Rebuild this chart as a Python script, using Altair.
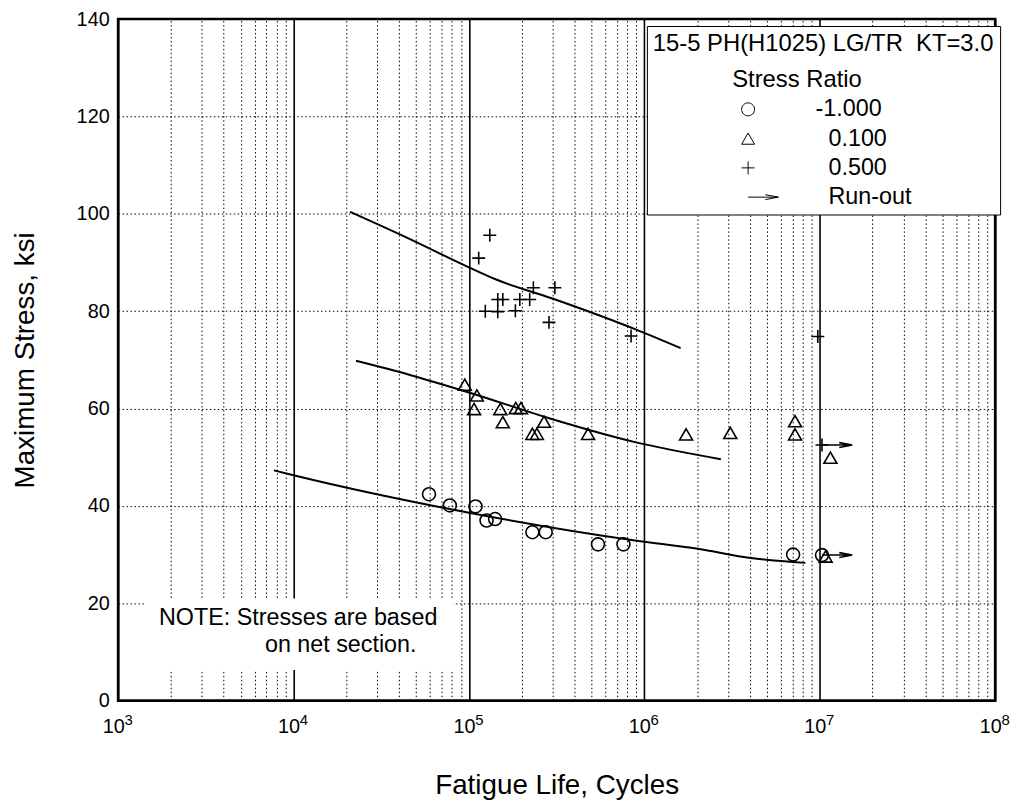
import altair as alt
import pandas as pd

# ---------------- data ----------------
series_names = ["-1.000", "0.100", "0.500", "Run-out"]

r_m1_life = [59200, 77800, 109000, 126000, 141000, 230000, 274000, 544000, 760000, 7.05e6, 1.03e7]
r_m1_stress = [42.4, 40.1, 39.9, 37.0, 37.3, 34.6, 34.6, 32.1, 32.1, 30.0, 29.9]

r_01_life = [94700, 111000, 107000, 151000, 156000, 185000, 198000, 230000, 244000, 268000,
             478000, 1.73e6, 3.09e6, 7.23e6, 7.23e6, 1.15e7, 1.08e7]
r_01_stress = [64.9, 62.7, 59.9, 59.9, 57.2, 60.1, 60.1, 54.8, 54.8, 57.3,
               54.8, 54.7, 55.0, 57.4, 54.7, 49.9, 29.6]

r_05_life = [131500, 113700, 124000, 146000, 146000, 156000, 184000, 195000, 222000, 233000,
             309000, 286000, 840000, 9.75e6, 1.03e7]
r_05_stress = [95.6, 90.9, 80.0, 79.9, 82.4, 82.4, 80.1, 82.4, 82.4, 84.8,
               84.8, 77.7, 74.9, 74.8, 52.5]

runout_life = [1.03e7, 1.03e7]
runout_stress = [52.5, 29.9]

fit_m1_life = [7730, 10000, 100000, 885000, 2.02e6, 4.05e6, 8.28e6]
fit_m1_stress = [47.3, 46.3, 38.6, 32.9, 31.2, 29.3, 28.3]
fit_01_life = [22700, 46100, 100000, 299000, 885000, 2.73e6]
fit_01_stress = [69.8, 66.9, 63.3, 57.8, 53.1, 49.6]
fit_05_life = [21000, 46100, 100000, 143000, 299000, 885000, 1.61e6]
fit_05_stress = [100.4, 94.8, 89.0, 86.5, 82.6, 76.3, 72.4]

major_x = [1e3, 1e4, 1e5, 1e6, 1e7, 1e8]
minor_x = [k * 10 ** d for d in range(3, 8) for k in range(2, 10)]
y_ticks = [0, 20, 40, 60, 80, 100, 120, 140]

note_lines = ["NOTE: Stresses are based", "on net section."]
note_life = [1710, 6870]
note_stress = [16.9, 11.4]
note_box_life = [1440, 81700]
note_box_stress = [6.3, 21.0]

ZW = "\u200b"      # keeps the leading no-break spaces from being trimmed
NB = "\u00a0"
legend_title = ["15-5 PH(H1025) LG/TR" + NB + " KT=3.0", ZW + NB * 12 + "Stress Ratio"]

# ---------------- tables ----------------
pts = pd.concat([
    pd.DataFrame({"life": r_m1_life, "stress": r_m1_stress, "series": "-1.000"}),
    pd.DataFrame({"life": r_01_life, "stress": r_01_stress, "series": "0.100"}),
    pd.DataFrame({"life": r_05_life, "stress": r_05_stress, "series": "0.500"}),
    pd.DataFrame({"life": runout_life, "stress": runout_stress, "series": "Run-out"}),
], ignore_index=True)

fits = pd.concat([
    pd.DataFrame({"life": fit_m1_life, "stress": fit_m1_stress, "curve": "-1.000"}),
    pd.DataFrame({"life": fit_01_life, "stress": fit_01_stress, "curve": "0.100"}),
    pd.DataFrame({"life": fit_05_life, "stress": fit_05_stress, "curve": "0.500"}),
], ignore_index=True)

note_df = pd.DataFrame({"life": note_life, "stress": note_stress, "text": note_lines})
box_df = pd.DataFrame({"l1": [note_box_life[0]], "l2": [note_box_life[1]],
                       "s1": [note_box_stress[0]], "s2": [note_box_stress[1]]})

FONT = "Liberation Sans"
xscale = alt.Scale(type="log", domain=[1e3, 1e8], nice=False)
yscale = alt.Scale(domain=[0, 140], nice=False)
DOT = [1.5, 2.5]

# marker outlines (unit = half the symbol box)
k = 0.2485
circle_path = (f"M0.45,0C0.45,{k} {k},0.45 0,0.45C-{k},0.45 -0.45,{k} -0.45,0"
               f"C-0.45,-{k} -{k},-0.45 0,-0.45C{k},-0.45 0.45,-{k} 0.45,0Z")
triangle_path = "M0,-0.39L-0.45,0.39L0.45,0.39Z"
plus_path = "M-0.45,0L0.45,0M0,-0.45L0,0.45"
arrow_path = "M0,0L2.1,0M1.2,-0.17L2.1,0L1.2,0.17"
MARK_SIZE = 841

# ---------------- layers ----------------
lines = alt.Chart(fits).mark_line(color="black", strokeWidth=2, interpolate="monotone").encode(
    x=alt.X("life:Q", scale=xscale, axis=alt.Axis(
        values=major_x, grid=True, gridColor="black", gridWidth=1.6, gridOpacity=1,
        labelExpr="'10'",
        labelFontSize=20, labelFont=FONT, labelColor="black", labelPadding=16, labelOffset=-5,
        ticks=False, domain=False, labelFlush=False, orient="bottom",
        title="Fatigue Life, Cycles", titleFontSize=28, titleFont=FONT, titleFontWeight="normal",
        titleColor="black", titleY=86, titleBaseline="middle")),
    y=alt.Y("stress:Q", scale=yscale, axis=alt.Axis(
        values=y_ticks, grid=True, gridColor="black", gridDash=DOT, gridWidth=1, gridOpacity=1,
        labelFontSize=20, labelFont=FONT, labelColor="black", labelPadding=9,
        ticks=False, domain=False, labelFlush=False, orient="left",
        title="Maximum Stress, ksi", titleFontSize=28, titleFont=FONT, titleFontWeight="normal",
        titleColor="black", titleX=-93, titleY=343.5, titleAngle=270, titleBaseline="middle",
        titleAlign="center")),
    detail="curve:N",
)

legend = alt.Legend(
    title=legend_title, orient="none", legendX=533, legendY=7,
    strokeColor="black", fillColor="white", padding=6,
    titleFont=FONT, titleFontSize=24, titleFontWeight="normal", titleColor="black",
    titleAnchor="start", titleAlign="left", titleLineHeight=36, titlePadding=3, titleLimit=500,
    labelFont=FONT, labelFontSize=23.5, labelColor="black", labelLimit=300,
    labelExpr="datum.label == '-1.000' ? datum.label : '" + ZW + NB + NB + "' + datum.label",
    symbolOffset=81, labelOffset=53, rowPadding=2.5, symbolSize=MARK_SIZE,
    symbolStrokeWidth=1, symbolStrokeColor="black", symbolOpacity=1,
)

points = alt.Chart(pts).mark_point(filled=False, color="black", strokeWidth=1.6, opacity=1,
                                   size=MARK_SIZE).encode(
    x=alt.X("life:Q", scale=xscale, axis=alt.Axis(
        values=minor_x, grid=True, gridColor="black", gridDash=DOT, gridWidth=1, gridOpacity=1,
        labels=False, ticks=False, domain=False, title=None, orient="top")),
    y=alt.Y("stress:Q", scale=yscale, axis=None),
    shape=alt.Shape("series:N", scale=alt.Scale(
        domain=series_names, range=[circle_path, triangle_path, plus_path, arrow_path]),
        legend=legend),
)

# white patch behind the note, carrying the superscript exponents of the x labels
box = alt.Chart(box_df).mark_rect(fill="white").encode(
    x=alt.X("l1:Q", scale=xscale, axis=alt.Axis(
        values=major_x, grid=False, ticks=False, domain=False, title=None, orient="bottom",
        labelExpr="'' + round(log(datum.value)/LN10)",
        labelFontSize=15, labelFont=FONT, labelColor="black", labelPadding=12, labelOffset=10,
        labelFlush=False)),
    x2="l2:Q",
    y=alt.Y("s1:Q", scale=yscale, axis=None), y2="s2:Q",
)

note = alt.Chart(note_df).mark_text(align="left", baseline="middle", font=FONT,
                                    fontSize=23.5, color="black").encode(
    x=alt.X("life:Q", scale=xscale, axis=None),
    y=alt.Y("stress:Q", scale=yscale, axis=None),
    text="text:N",
)

chart = alt.layer(lines, box, note, points).resolve_axis(
    x="independent", y="independent").properties(
    width=884, height=687,
    autosize=alt.AutoSizeParams(type="none"),
    padding={"left": 111, "top": 8, "right": 19, "bottom": 98},
).configure(font=FONT).configure_view(stroke="black", strokeWidth=2.6)

chart.save("out.html", embed_options={"renderer": "svg", "actions": False})
